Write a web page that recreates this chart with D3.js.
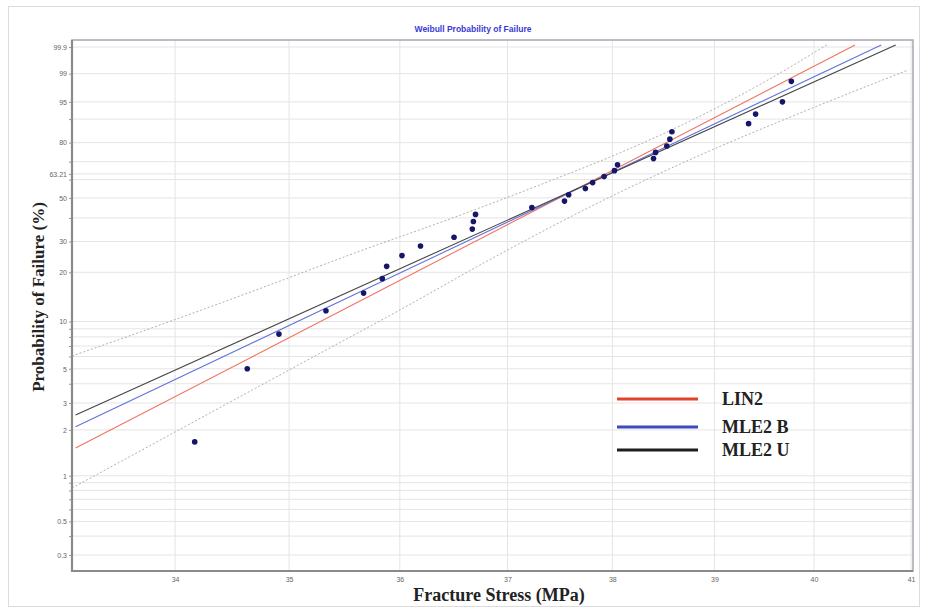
<!DOCTYPE html>
<html>
<head>
<meta charset="utf-8">
<script src="https://cdn.jsdelivr.net/npm/d3@7"></script>
<style>
  html, body { margin: 0; padding: 0; background: #fff; }
  svg { display: block; }
</style>
</head>
<body>
<svg id="chart" width="928" height="610"></svg>
<script>
// Fracture stress test results (MPa) and their plotting positions (% failed)
const stress = [34.17, 34.63, 34.91, 35.33, 35.67, 35.84, 35.88, 36.02, 36.19, 36.50,
                36.67, 36.68, 36.70, 37.23, 37.54, 37.58, 37.74, 37.81, 37.92, 38.02,
                38.05, 38.40, 38.42, 38.53, 38.56, 38.58, 39.34, 39.41, 39.68, 39.77];
const failPct = [1.67, 5.00, 8.33, 11.67, 15.00, 18.33, 21.67, 25.00, 28.33, 31.67,
                 35.00, 38.33, 41.67, 45.00, 48.33, 51.67, 55.00, 58.33, 61.67, 65.00,
                 68.33, 71.67, 75.00, 78.33, 81.67, 85.00, 88.33, 91.67, 95.00, 98.33];

// Fitted Weibull lines: [stress, % failed] end points
const lin2Fit  = [[33.15, 1.52], [40.42, 99.92]];
const mle2bFit = [[33.15, 2.10], [40.69, 99.92]];
const mle2uFit = [[33.15, 2.50], [40.84, 99.92]];

// Confidence bounds
const upperBound = [[33.12, 6.04], [33.70, 8.59], [34.66, 15.23], [35.64, 26.56], [36.46, 39.50],
                    [37.40, 59.21], [38.07, 74.68], [38.76, 89.33], [39.55, 98.56], [40.13, 99.92]];
const lowerBound = [[33.12, 0.83], [34.00, 1.94], [35.10, 5.37], [36.00, 11.80], [36.93, 25.53],
                    [37.88, 47.86], [38.86, 73.62], [39.86, 92.01], [40.97, 99.23]];

// Axis ticks
const xTicks = [34, 35, 36, 37, 38, 39, 40, 41];
const yLabelTicks = [99.9, 99, 95, 80, 63.21, 50, 30, 20, 10, 5, 3, 2, 1, 0.5, 0.3];
const yGridTicks = [99.9, 99, 95, 90, 80, 70, 63.21, 60, 50, 40, 30, 20, 10, 9, 8, 7, 6, 5, 4,
                    3, 2, 1, 0.9, 0.8, 0.7, 0.6, 0.5, 0.4, 0.3];

const legendItems = [
  { name: "LIN2",   color: "#e2432b" },
  { name: "MLE2 B", color: "#3b4cc0" },
  { name: "MLE2 U", color: "#1e1e1e" }
];

const svg = d3.select("#chart");
const plot = { left: 72, right: 913, top: 40, bottom: 571 };

// Weibull probability transform: ln(-ln(1 - F))
const wb = p => Math.log(-Math.log(1 - p / 100));

const x = d3.scaleLog().domain([33.12, 41.02]).range([plot.left, plot.right]);
const y = d3.scaleLinear().domain([-6.0514, 2.0394]).range([plot.bottom, plot.top]);
const yP = p => y(wb(p));

// outer frame
svg.append("rect")
  .attr("x", 8.5).attr("y", 6.5).attr("width", 911).attr("height", 600)
  .attr("fill", "none").attr("stroke", "#dcdcdc").attr("stroke-width", 1);

// title
svg.append("text")
  .attr("x", 473).attr("y", 32)
  .attr("text-anchor", "middle")
  .attr("font-family", "Liberation Sans, Arial, sans-serif")
  .attr("font-size", 8.5).attr("font-weight", "bold")
  .attr("fill", "#3a3ad6")
  .text("Weibull Probability of Failure");

svg.append("defs").append("clipPath").attr("id", "plotClip")
  .append("rect")
  .attr("x", plot.left).attr("y", plot.top)
  .attr("width", plot.right - plot.left).attr("height", plot.bottom - plot.top);

// grid
const grid = svg.append("g");
grid.selectAll("line.h").data(yGridTicks).join("line")
  .attr("x1", plot.left).attr("x2", plot.right)
  .attr("y1", d => yP(d)).attr("y2", d => yP(d))
  .attr("stroke", "#e4e4e4").attr("stroke-width", 1);
grid.selectAll("line.v").data(xTicks).join("line")
  .attr("x1", d => x(d)).attr("x2", d => x(d))
  .attr("y1", plot.top).attr("y2", plot.bottom)
  .attr("stroke", "#e4e4e4").attr("stroke-width", 1);

const body = svg.append("g").attr("clip-path", "url(#plotClip)");
const line = d3.line().x(d => x(d[0])).y(d => yP(d[1]));
const curve = d3.line().x(d => x(d[0])).y(d => yP(d[1])).curve(d3.curveMonotoneX);

// confidence bounds
[upperBound, lowerBound].forEach(b => {
  body.append("path").attr("d", curve(b))
    .attr("fill", "none").attr("stroke", "#b0b0b0")
    .attr("stroke-width", 1).attr("stroke-dasharray", "2,2");
});

// fitted lines
[[lin2Fit, "#f07462"], [mle2bFit, "#6272dc"], [mle2uFit, "#454545"]].forEach(([d, c]) => {
  body.append("path").attr("d", line(d))
    .attr("fill", "none").attr("stroke", c).attr("stroke-width", 1.1);
});

// data points
body.selectAll("circle").data(stress).join("circle")
  .attr("cx", d => x(d))
  .attr("cy", (d, i) => yP(failPct[i]))
  .attr("r", 2.8)
  .attr("fill", "#15156a");

// axes
const tickFont = "Liberation Sans, Arial, sans-serif";
const yAxis = d3.axisLeft(y)
  .tickValues(yGridTicks.map(wb))
  .tickSize(3)
  .tickFormat((w, i) => yLabelTicks.includes(yGridTicks[i]) ? String(yGridTicks[i]) : "");
const gy = svg.append("g").attr("transform", `translate(${plot.left},0)`).call(yAxis);
gy.select(".domain").remove();
gy.selectAll(".tick line").attr("stroke", "#999");
gy.selectAll(".tick text").attr("font-family", tickFont).attr("font-size", 7)
  .attr("fill", "#666").attr("x", -5);

const xAxis = d3.axisBottom(x).tickValues(xTicks).tickSize(0).tickFormat(d3.format("d"));
const gx = svg.append("g").attr("transform", `translate(0,${plot.bottom})`).call(xAxis);
gx.select(".domain").remove();
gx.selectAll(".tick text").attr("font-family", tickFont).attr("font-size", 7)
  .attr("fill", "#666").attr("dy", "0").attr("y", 11);

// plot frame
svg.append("rect")
  .attr("x", plot.left).attr("y", plot.top)
  .attr("width", plot.right - plot.left).attr("height", plot.bottom - plot.top)
  .attr("fill", "none").attr("stroke", "#a9a4b0").attr("stroke-width", 1.5);
svg.append("path")
  .attr("d", `M${plot.left},${plot.top}V${plot.bottom}H${plot.right}`)
  .attr("fill", "none").attr("stroke", "#8a8a8a").attr("stroke-width", 2.2);

// axis titles
const serif = "Liberation Serif, 'Times New Roman', serif";
svg.append("text")
  .attr("transform", "translate(44,297) rotate(-90)")
  .attr("text-anchor", "middle")
  .attr("font-family", serif).attr("font-weight", "bold").attr("font-size", 17)
  .attr("fill", "#222")
  .text("Probability of Failure (%)");
svg.append("text")
  .attr("x", 499).attr("y", 601)
  .attr("text-anchor", "middle")
  .attr("font-family", serif).attr("font-weight", "bold").attr("font-size", 18)
  .attr("fill", "#222")
  .text("Fracture Stress (MPa)");

// legend
const legendY = [399, 427, 450];
const lg = svg.append("g");
legendItems.forEach((it, i) => {
  lg.append("line")
    .attr("x1", 617).attr("x2", 698)
    .attr("y1", legendY[i]).attr("y2", legendY[i])
    .attr("stroke", it.color).attr("stroke-width", 3);
  lg.append("text")
    .attr("x", 722).attr("y", legendY[i] + 6)
    .attr("font-family", serif).attr("font-weight", "bold").attr("font-size", 18)
    .attr("fill", "#222")
    .text(it.name);
});
</script>
</body>
</html>
